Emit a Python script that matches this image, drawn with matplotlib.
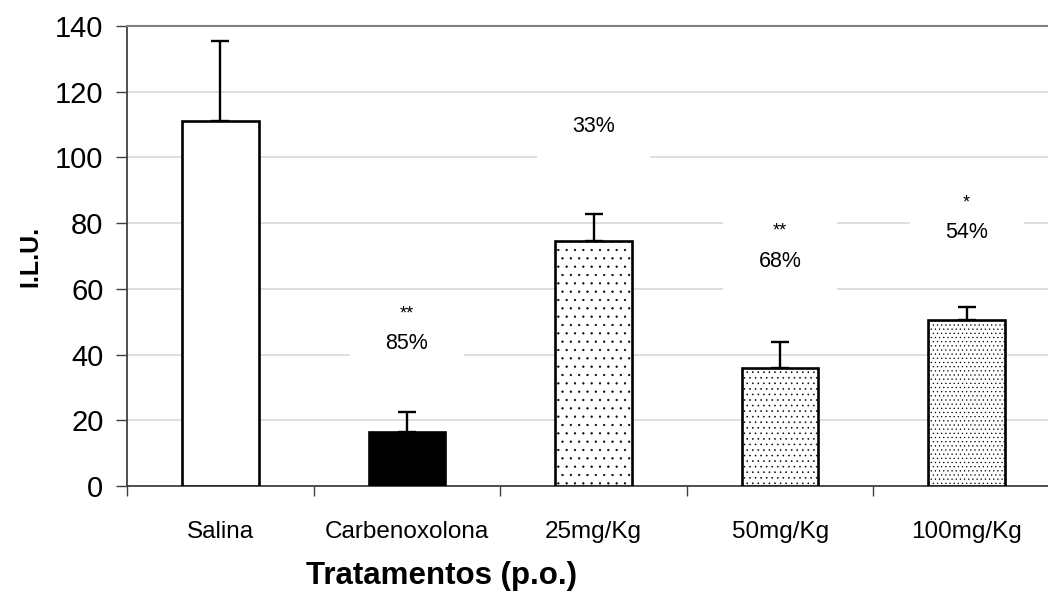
import numpy as np
import matplotlib.pyplot as plt
from matplotlib.patches import Rectangle

plt.rcParams['font.family'] = ['Liberation Sans', 'DejaVu Sans']
plt.rcParams['hatch.color'] = '#707070'
plt.rcParams['hatch.linewidth'] = 0.4

# data
categories = ['Salina', 'Carbenoxolona', '25mg/Kg', '50mg/Kg', '100mg/Kg']
means = [111, 16.5, 74.5, 35.8, 50.6]
errors = [24.5, 6, 8.2, 8, 3.8]
percent = ['', '85%', '33%', '68%', '54%']
stars = ['', '**', '', '**', '*']
pct_y = [0, 43.5, 109.5, 68.2, 77]
star_y = [0, 52.5, 0, 77.6, 86]
# white boxes behind labels (y range)
box_lo = [0, 37, 95, 57, 71]
box_hi = [0, 58, 118, 83, 92]

fills = ['white', 'black', 'white', 'white', 'white']
hatches = ['', '', '..', '...', '....']

fig = plt.figure(figsize=(10.48, 5.95), dpi=100)
ax = fig.add_axes([127/1048, 109/595, (1060-127)/1048, 460/595])

x = np.arange(len(categories))
bars = ax.bar(x, means, width=0.41, color=fills, edgecolor='black', linewidth=1.9, zorder=3)
for b, h in zip(bars, hatches):
    b.set_hatch(h)
ax.errorbar(x, means, yerr=[np.zeros(len(errors)), errors], fmt='none', ecolor='black',
            elinewidth=1.7, capsize=6.5, capthick=1.7, zorder=2)

for i in range(len(categories)):
    if percent[i]:
        ax.add_patch(Rectangle((x[i]-0.305, box_lo[i]), 0.61, box_hi[i]-box_lo[i],
                               facecolor='white', edgecolor='none', zorder=1))
        ax.text(x[i], pct_y[i], percent[i], ha='center', va='center', fontsize=15.5, zorder=4)
    if stars[i]:
        ax.text(x[i], star_y[i], stars[i], ha='center', va='center', fontsize=13, zorder=4)

ax.set_xlim(-0.5, 4.5)
ax.set_ylim(0, 140)
ax.set_yticks(np.arange(0, 141, 20))
ax.yaxis.grid(True, color='#d9d9d9', linewidth=1.2, zorder=0)
ax.set_axisbelow(True)

ax.set_xticks(x)
ax.set_xticklabels(categories, fontsize=17.5)
ax.set_xticks(np.arange(-0.5, 5, 1), minor=True)
ax.tick_params(axis='x', which='major', length=0, pad=25)
ax.tick_params(axis='x', which='minor', length=7, width=1, color='#404040')
ax.tick_params(axis='y', labelsize=21, length=8, width=1, color='#404040', pad=9)

for s in ['left', 'bottom']:
    ax.spines[s].set_color('#404040')
    ax.spines[s].set_linewidth(1.3)
ax.spines['top'].set_color('#808080')
ax.spines['top'].set_linewidth(1.5)
ax.spines['right'].set_visible(False)

ax.set_ylabel('I.L.U.', fontsize=18, fontweight='bold')
ax.yaxis.set_label_coords((42-127)/(1060-127), 0.5)
ax.set_xlabel('Tratamentos (p.o.)', fontsize=22.5, fontweight='bold')
ax.xaxis.set_label_coords((442-127)/(1060-127), -0.163)

fig.savefig('out.png', dpi=100)
